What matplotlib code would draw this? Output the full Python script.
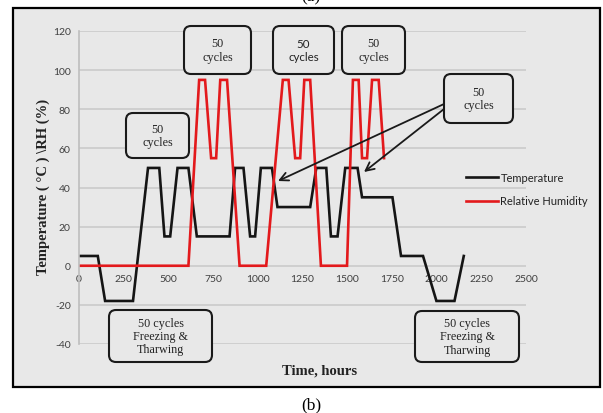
import matplotlib
matplotlib.use("Agg")
import matplotlib.pyplot as plt
from matplotlib.patches import Rectangle, FancyBboxPatch

# ---- data ----
time_temp = [0, 105, 146, 302, 386, 449, 478, 510, 551, 612, 659, 842, 873, 920, 957, 985,
             1017, 1079, 1110, 1293, 1327, 1383, 1409, 1446, 1489, 1558, 1583, 1753, 1801,
             1924, 1999, 2100, 2152]
temperature = [5, 5, -18, -18, 50, 50, 15, 15, 50, 50, 15, 15, 50, 50, 15, 15,
               50, 50, 30, 30, 50, 50, 15, 15, 50, 50, 35, 35, 5,
               5, -18, -18, 5]
time_rh = [0, 612, 672, 705, 739, 767, 790, 828, 898, 1047, 1140, 1172, 1209, 1237, 1260,
           1293, 1353, 1499, 1532, 1564, 1583, 1611, 1639, 1676, 1706]
rel_humidity = [0, 0, 95, 95, 55, 55, 95, 95, 0, 0, 95, 95, 55, 55, 95,
                95, 0, 0, 95, 95, 55, 55, 95, 95, 55]
x_ticks = [0, 250, 500, 750, 1000, 1250, 1500, 1750, 2000, 2250, 2500]
y_ticks = [-40, -20, 0, 20, 40, 60, 80, 100, 120]
series_labels = ["Temperature", "Relative Humidity"]

W, H = 603, 414
fig = plt.figure(figsize=(W / 100, H / 100), dpi=100)
fig.patch.set_facecolor("white")

# outer framed panel
fig.patches.append(Rectangle((13 / W, 1 - 388 / H), 587 / W, 379 / H,
                             transform=fig.transFigure, facecolor="#e8e8e8",
                             edgecolor="black", lw=1.6, zorder=-5))

ax = fig.add_axes([79 / W, 1 - 345 / H, 447 / W, 313 / H], zorder=1)
ax.patch.set_visible(False)
for s in ["top", "right"]:
    ax.spines[s].set_visible(False)
ax.spines["bottom"].set_position(("data", 0))
ax.spines["bottom"].set_color("none")
ax.spines["left"].set_color("#bdbdbd")
ax.spines["left"].set_linewidth(1.2)

ax.set_xlim(0, 2500)
ax.set_ylim(-40, 120)

tick_font = dict(family="Lato", size=7.5, color="#404040")
ax.set_xticks(x_ticks)
ax.set_yticks(y_ticks)
ax.set_xticklabels([str(v) for v in x_ticks], **tick_font)
ax.set_yticklabels([str(v) for v in y_ticks], **tick_font)
ax.tick_params(axis="both", length=0)
ax.tick_params(axis="x", pad=6)
ax.tick_params(axis="y", pad=6)

ax.yaxis.grid(True, color="#c8c8c8", lw=1.1)
ax.set_axisbelow(True)

l1, = ax.plot(time_temp, temperature, color="#151515", lw=1.9, label=series_labels[0],
              solid_joinstyle="miter")
l2, = ax.plot(time_rh, rel_humidity, color="#e3191c", lw=1.9, label=series_labels[1],
              solid_joinstyle="miter")

leg = ax.legend(handles=[l1, l2], loc="center left",
                bbox_to_anchor=(466 / W, 1 - 190 / H), bbox_transform=fig.transFigure,
                frameon=False, handlelength=2.9, handletextpad=0.2, labelspacing=1.15,
                borderpad=0, borderaxespad=0, prop=dict(family="Lato", size=8))
for t in leg.get_texts():
    t.set_color("#222222")

# overlay in pixel coordinates for annotations
ov = fig.add_axes([0, 0, 1, 1], zorder=5)
ov.set_xlim(0, W)
ov.set_ylim(H, 0)
ov.axis("off")

serif = "Liberation Serif"
boxes = [
    (157.5, 136.5, 63, 45, "50\ncycles", serif),
    (217.5, 51, 67, 48, "50\ncycles", serif),
    (303.5, 51, 61, 48, "50\ncycles", "Lato"),
    (373.5, 51, 63, 48, "50\ncycles", serif),
    (478.5, 99.5, 69, 49, "50\ncycles", serif),
    (160.5, 337, 103, 52, "50 cycles\nFreezing &\nTharwing", serif),
    (467, 337.5, 104, 51, "50 cycles\nFreezing &\nTharwing", serif),
]
for cx, cy, bw, bh, txt, fam in boxes:
    p = FancyBboxPatch((cx - bw / 2, cy - bh / 2), bw, bh,
                       boxstyle="round,pad=0,rounding_size=7",
                       facecolor="#e8e8e8", edgecolor="#1a1a1a", lw=1.5)
    ov.add_patch(p)
    ov.text(cx, cy, txt, ha="center", va="center", family=fam,
            size=8.7 if fam == serif else 8.3, color="#222222", linespacing=1.15)

for tx, ty, hx, hy in [(444, 105, 278, 182), (444, 110, 364, 173)]:
    ov.annotate("", xy=(hx, hy), xytext=(tx, ty),
                arrowprops=dict(arrowstyle="->,head_length=0.6,head_width=0.3",
                                color="#1a1a1a", lw=1.3, shrinkA=0, shrinkB=0))

ov.text(319.5, 371, "Time, hours", ha="center", va="center", family=serif,
        weight="bold", size=10.5, color="#222222")
ov.text(43, 187, "Temperature ( °C ) \\RH (%)", ha="center", va="center", family=serif,
        weight="bold", size=10.5, rotation=90, color="#222222")
ov.text(311, 405, "(b)", ha="center", va="center", family=serif, size=12.5, color="black")
ov.text(311, 5, "(a)", ha="center", va="bottom", family=serif, size=12.5, color="black")

fig.savefig("out.png", dpi=100)
